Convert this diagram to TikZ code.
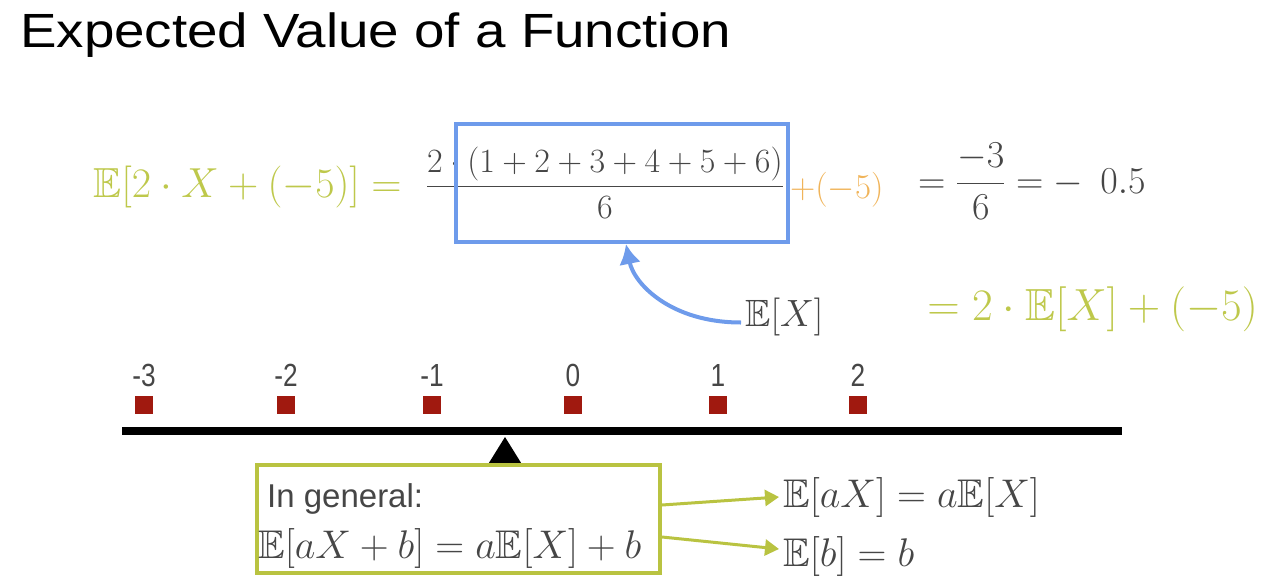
\RequirePackage{fix-cm}
\documentclass[tikz,border=0pt]{standalone}
\usepackage{amsmath}
\usepackage{amssymb}
\DeclareFontFamily{U}{msb}{}
\DeclareFontShape{U}{msb}{m}{n}{<-6> msbm5 <6-8> msbm7 <8-> msbm10}{}
\usepackage{fontspec}
\setmainfont{Liberation Serif}
\setsansfont{Liberation Sans}
\newfontfamily\narrowsans[FakeStretch=0.82]{Liberation Sans}
\newfontfamily\titlesans[FakeStretch=1.14]{Liberation Sans}
\usepackage{tikz}
\usetikzlibrary{arrows.meta,positioning}

\definecolor{eqgreen}{RGB}{190,200,75}
\definecolor{boxgreen}{RGB}{185,195,65}
\definecolor{meanblue}{RGB}{110,155,235}
\definecolor{shiftorange}{RGB}{240,180,90}
\definecolor{inkgray}{RGB}{70,70,70}
\definecolor{massred}{RGB}{160,25,15}

\newcommand{\fsz}[1]{\fontsize{#1}{#1}\selectfont}

\begin{document}
\begin{tikzpicture}[x=1pt,y=-1pt,
    eqtext/.style={anchor=base west,inner sep=0pt,text=inkgray,font=\fsz{#1}},
    mass/.style={fill=massred,minimum size=18pt,inner sep=0pt},
    ticklabel/.style={inner sep=0pt,text=inkgray,font=\narrowsans\fsz{32}}
]
\useasboundingbox (0,0) rectangle (1266,586);

% Title
\node[anchor=base west,inner sep=0pt,font=\titlesans\fsz{48}] (title) at (20,48) {Expected Value of a Function};

% Expectation worked out
\node[eqtext=42,anchor=base east,text=eqgreen] (lhs) at (402,197) {$\mathbb{E}[2\cdot X+(-5)] =$};
\node[eqtext=34,anchor=base] (frac) at (605,195) {$\dfrac{2\cdot(1+2+3+4+5+6)}{6}$};
\node[draw=meanblue,line width=4pt,minimum width=332pt,minimum height=118pt] (meanbox) at (622,183) {};
\node[eqtext=35,text=shiftorange] (shift) at (790,198) {$+(-5)$};
\node[eqtext=38] (result) at (918,193) {$=\dfrac{-3}{6}=-\;\,0.5$};
\node[eqtext=45,anchor=base east,text=eqgreen] (rewrite) at (1258,320) {$=2\cdot\mathbb{E}[X]+(-5)$};

% Mean label
\node[eqtext=38] (EX) at (745,326) {$\mathbb{E}[X]$};
\draw[meanblue,line width=4pt,-{Latex[length=20pt,width=22pt]}] ([xshift=-4pt,yshift=-6pt]EX.west)
    .. controls +(-70,0) and +(8,40) .. ([xshift=4pt]meanbox.south);

% Seesaw
\node[fill=black,minimum width=1000pt,minimum height=8pt,inner sep=0pt] (beam) at (622,431) {};
\fill (505,437) -- (523,466) -- (487,466) -- cycle;
\foreach \val/\xpos in {-3/144,-2/286,-1/432,0/573,1/718,2/858} {
    \node[mass] (m\xpos) at (\xpos,405) {};
    \node[ticklabel,above=9pt of m\xpos] (t\xpos) {\val};
}

% General rule
\node[draw=boxgreen,line width=4pt,minimum width=403pt,minimum height=108pt] (general) at (458.5,519) {};
\node[anchor=base west,inner sep=0pt,text=inkgray,font=\sffamily\fsz{33}] (head) at (267,507) {In general:};
\node[eqtext=40] (rule) at (258,558) {$\mathbb{E}[aX+b]=a\mathbb{E}[X]+b$};
\node[eqtext=40] (scalerule) at (783,507) {$\mathbb{E}[aX]=a\mathbb{E}[X]$};
\node[eqtext=40] (construle) at (783,566) {$\mathbb{E}[b]=b$};
\draw[boxgreen,line width=3pt,-{Triangle[length=14pt,width=16pt]}] ([yshift=14pt]general.east) -- ([xshift=-4pt]scalerule.west);
\draw[boxgreen,line width=3pt,-{Triangle[length=14pt,width=16pt]}] ([yshift=-18pt]general.east) -- ([xshift=-4pt,yshift=7pt]construle.west);

\end{tikzpicture}
\end{document}
